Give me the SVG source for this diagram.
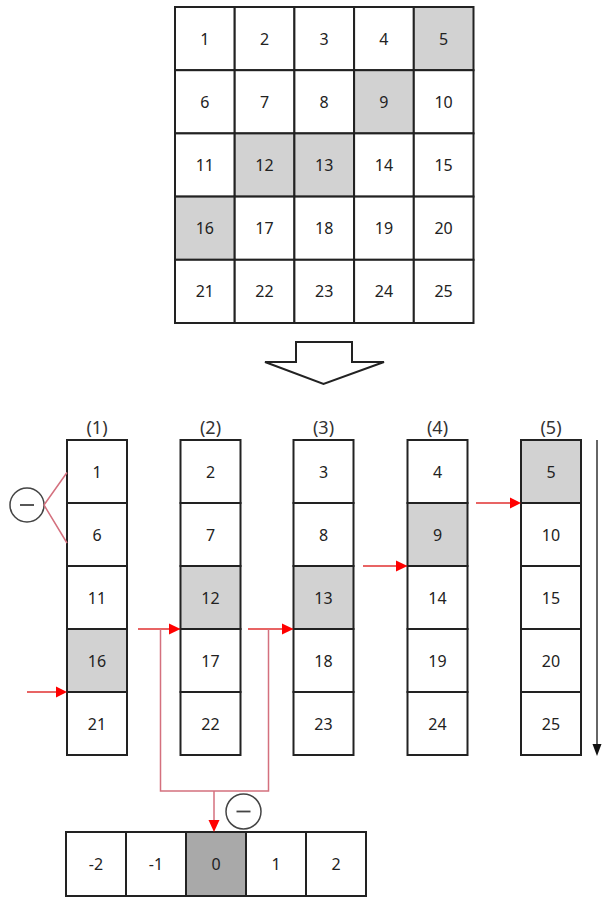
<svg xmlns="http://www.w3.org/2000/svg" width="602" height="900" viewBox="0 0 602 900">
<style>
.c{fill:#fff;stroke:#222;stroke-width:2}
.g{fill:#d2d2d2;stroke:#222;stroke-width:2}
.d{fill:#a9a9a9;stroke:#222;stroke-width:2}
.t{font-family:"Noto Sans","DejaVu Sans",sans-serif;font-size:16px;fill:#222;text-anchor:middle;dominant-baseline:central}
.lb{font-family:"Noto Sans","DejaVu Sans",sans-serif;font-size:18px;fill:#333;text-anchor:middle;dominant-baseline:central}
.r{stroke:#d4707e;stroke-width:1.5;fill:none}
.rh{fill:#f00}
.circ{fill:#fff;stroke:#444;stroke-width:1.5}
</style>
<rect width="602" height="900" fill="#fff"/>
<g id="grid">
<rect class="c" x="175" y="7" width="59.7" height="63.2"/><text class="t" x="204.8" y="38.6">1</text>
<rect class="c" x="234.7" y="7" width="59.7" height="63.2"/><text class="t" x="264.5" y="38.6">2</text>
<rect class="c" x="294.4" y="7" width="59.7" height="63.2"/><text class="t" x="324.2" y="38.6">3</text>
<rect class="c" x="354.1" y="7" width="59.7" height="63.2"/><text class="t" x="383.9" y="38.6">4</text>
<rect class="g" x="413.8" y="7" width="59.7" height="63.2"/><text class="t" x="443.6" y="38.6">5</text>
<rect class="c" x="175" y="70.2" width="59.7" height="63.2"/><text class="t" x="204.8" y="101.8">6</text>
<rect class="c" x="234.7" y="70.2" width="59.7" height="63.2"/><text class="t" x="264.5" y="101.8">7</text>
<rect class="c" x="294.4" y="70.2" width="59.7" height="63.2"/><text class="t" x="324.2" y="101.8">8</text>
<rect class="g" x="354.1" y="70.2" width="59.7" height="63.2"/><text class="t" x="383.9" y="101.8">9</text>
<rect class="c" x="413.8" y="70.2" width="59.7" height="63.2"/><text class="t" x="443.6" y="101.8">10</text>
<rect class="c" x="175" y="133.4" width="59.7" height="63.2"/><text class="t" x="204.8" y="165">11</text>
<rect class="g" x="234.7" y="133.4" width="59.7" height="63.2"/><text class="t" x="264.5" y="165">12</text>
<rect class="g" x="294.4" y="133.4" width="59.7" height="63.2"/><text class="t" x="324.2" y="165">13</text>
<rect class="c" x="354.1" y="133.4" width="59.7" height="63.2"/><text class="t" x="383.9" y="165">14</text>
<rect class="c" x="413.8" y="133.4" width="59.7" height="63.2"/><text class="t" x="443.6" y="165">15</text>
<rect class="g" x="175" y="196.6" width="59.7" height="63.2"/><text class="t" x="204.8" y="228.2">16</text>
<rect class="c" x="234.7" y="196.6" width="59.7" height="63.2"/><text class="t" x="264.5" y="228.2">17</text>
<rect class="c" x="294.4" y="196.6" width="59.7" height="63.2"/><text class="t" x="324.2" y="228.2">18</text>
<rect class="c" x="354.1" y="196.6" width="59.7" height="63.2"/><text class="t" x="383.9" y="228.2">19</text>
<rect class="c" x="413.8" y="196.6" width="59.7" height="63.2"/><text class="t" x="443.6" y="228.2">20</text>
<rect class="c" x="175" y="259.8" width="59.7" height="63.2"/><text class="t" x="204.8" y="291.4">21</text>
<rect class="c" x="234.7" y="259.8" width="59.7" height="63.2"/><text class="t" x="264.5" y="291.4">22</text>
<rect class="c" x="294.4" y="259.8" width="59.7" height="63.2"/><text class="t" x="324.2" y="291.4">23</text>
<rect class="c" x="354.1" y="259.8" width="59.7" height="63.2"/><text class="t" x="383.9" y="291.4">24</text>
<rect class="c" x="413.8" y="259.8" width="59.7" height="63.2"/><text class="t" x="443.6" y="291.4">25</text>
</g>
<g id="bigarrow">
<path d="M296,342 H352 V362 H384 L323.5,384 L265,362 H296 Z" fill="#fff" stroke="#222" stroke-width="2" stroke-linejoin="miter"/>
</g>
<g id="col1">
<text class="lb" x="97" y="427">(1)</text>
<rect class="c" x="67" y="440" width="60" height="63"/><text class="t" x="97" y="471.5">1</text>
<rect class="c" x="67" y="503" width="60" height="63"/><text class="t" x="97" y="534.5">6</text>
<rect class="c" x="67" y="566" width="60" height="63"/><text class="t" x="97" y="597.5">11</text>
<rect class="g" x="67" y="629" width="60" height="63"/><text class="t" x="97" y="660.5">16</text>
<rect class="c" x="67" y="692" width="60" height="63"/><text class="t" x="97" y="723.5">21</text>
</g>
<g id="col2">
<text class="lb" x="210.5" y="427">(2)</text>
<rect class="c" x="180.5" y="440" width="60" height="63"/><text class="t" x="210.5" y="471.5">2</text>
<rect class="c" x="180.5" y="503" width="60" height="63"/><text class="t" x="210.5" y="534.5">7</text>
<rect class="g" x="180.5" y="566" width="60" height="63"/><text class="t" x="210.5" y="597.5">12</text>
<rect class="c" x="180.5" y="629" width="60" height="63"/><text class="t" x="210.5" y="660.5">17</text>
<rect class="c" x="180.5" y="692" width="60" height="63"/><text class="t" x="210.5" y="723.5">22</text>
</g>
<g id="col3">
<text class="lb" x="323.5" y="427">(3)</text>
<rect class="c" x="293.5" y="440" width="60" height="63"/><text class="t" x="323.5" y="471.5">3</text>
<rect class="c" x="293.5" y="503" width="60" height="63"/><text class="t" x="323.5" y="534.5">8</text>
<rect class="g" x="293.5" y="566" width="60" height="63"/><text class="t" x="323.5" y="597.5">13</text>
<rect class="c" x="293.5" y="629" width="60" height="63"/><text class="t" x="323.5" y="660.5">18</text>
<rect class="c" x="293.5" y="692" width="60" height="63"/><text class="t" x="323.5" y="723.5">23</text>
</g>
<g id="col4">
<text class="lb" x="437.5" y="427">(4)</text>
<rect class="c" x="407.5" y="440" width="60" height="63"/><text class="t" x="437.5" y="471.5">4</text>
<rect class="g" x="407.5" y="503" width="60" height="63"/><text class="t" x="437.5" y="534.5">9</text>
<rect class="c" x="407.5" y="566" width="60" height="63"/><text class="t" x="437.5" y="597.5">14</text>
<rect class="c" x="407.5" y="629" width="60" height="63"/><text class="t" x="437.5" y="660.5">19</text>
<rect class="c" x="407.5" y="692" width="60" height="63"/><text class="t" x="437.5" y="723.5">24</text>
</g>
<g id="col5">
<text class="lb" x="551" y="427">(5)</text>
<rect class="g" x="521" y="440" width="60" height="63"/><text class="t" x="551" y="471.5">5</text>
<rect class="c" x="521" y="503" width="60" height="63"/><text class="t" x="551" y="534.5">10</text>
<rect class="c" x="521" y="566" width="60" height="63"/><text class="t" x="551" y="597.5">15</text>
<rect class="c" x="521" y="629" width="60" height="63"/><text class="t" x="551" y="660.5">20</text>
<rect class="c" x="521" y="692" width="60" height="63"/><text class="t" x="551" y="723.5">25</text>
</g>
<g id="kernel">
<rect class="c" x="66" y="832" width="60" height="64"/><text class="t" x="96" y="864">-2</text>
<rect class="c" x="126" y="832" width="60" height="64"/><text class="t" x="156" y="864">-1</text>
<rect class="d" x="186" y="832" width="60" height="64"/><text class="t" x="216" y="864">0</text>
<rect class="c" x="246" y="832" width="60" height="64"/><text class="t" x="276" y="864">1</text>
<rect class="c" x="306" y="832" width="60" height="64"/><text class="t" x="336" y="864">2</text>
</g>
<g id="minus1">
<circle class="circ" cx="27" cy="505" r="17"/>
<line x1="20" y1="505" x2="34" y2="505" stroke="#444" stroke-width="1.8"/>
</g>
<g id="minus2">
<circle class="circ" cx="243.5" cy="811.5" r="17.5"/>
<line x1="236.5" y1="811.5" x2="250.5" y2="811.5" stroke="#444" stroke-width="1.8"/>
</g>
<g id="connectors">
<path class="r" d="M44,505 L67,472.5 M44,505 L67,543"/>
<line class="r" x1="27" y1="692" x2="58" y2="692" style="stroke:#e03030"/>
<path class="rh" d="M56,686.5 L67,692 L56,697.5 Z"/>
<line class="r" x1="138" y1="629" x2="171" y2="629" style="stroke:#e03030"/>
<path class="rh" d="M169,623.5 L180.5,629 L169,634.5 Z"/>
<line class="r" x1="248" y1="629" x2="284" y2="629" style="stroke:#e03030"/>
<path class="rh" d="M282,623.5 L293.5,629 L282,634.5 Z"/>
<line class="r" x1="363" y1="566" x2="398" y2="566" style="stroke:#e03030"/>
<path class="rh" d="M396,560.5 L407.5,566 L396,571.5 Z"/>
<line class="r" x1="476" y1="503" x2="512" y2="503" style="stroke:#e03030"/>
<path class="rh" d="M510,497.5 L521,503 L510,508.5 Z"/>
<path class="r" d="M160.5,629 V791 H268.5 V629"/>
<line class="r" x1="214" y1="791" x2="214" y2="822"/>
<path class="rh" d="M208.5,820 L214,832 L219.5,820 Z"/>
<line x1="597" y1="440" x2="597" y2="746" stroke="#333" stroke-width="1.5"/>
<path d="M592.5,744 L597,756 L601.5,744 Z" fill="#111"/>
</g>
</svg>
